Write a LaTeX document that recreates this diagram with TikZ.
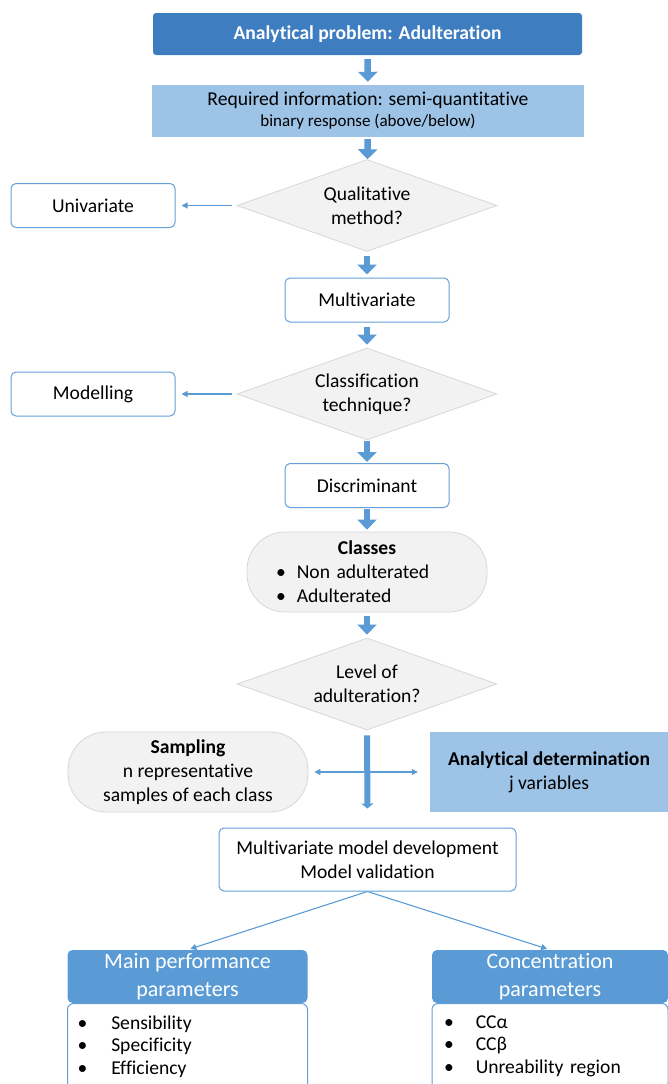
\documentclass[tikz,border=0pt]{standalone}
\usepackage{fontspec}
\setmainfont{Carlito}[Ligatures=NoCommon]
\usetikzlibrary{arrows.meta,shapes.geometric}
\definecolor{probblue}{RGB}{62,126,192}
\definecolor{infoblue}{RGB}{157,195,230}
\definecolor{hdrblue}{RGB}{91,155,213}
\definecolor{lineblue}{RGB}{100,160,215}
\definecolor{shade}{RGB}{242,242,242}
\definecolor{shadeline}{RGB}{215,215,215}
\begin{document}
\begin{tikzpicture}[x=1pt,y=-1pt]
  \tikzset{
    base/.style={font=\fontsize{19.6}{24}\selectfont, align=center, inner sep=0pt},
    probbox/.style={base, fill=probblue, text=white, font=\fontsize{19.6}{24}\selectfont\bfseries,
      rounded corners=3pt, minimum width=429pt, minimum height=42pt},
    infobox/.style={base, fill=infoblue, minimum width=432pt, minimum height=52pt},
    question/.style={base, diamond, aspect=2.83, fill=shade, draw=shadeline, line width=0.8pt,
      minimum width=260pt, minimum height=92pt},
    choice/.style={base, draw=lineblue, line width=1pt, fill=white, rounded corners=5pt,
      minimum width=164pt, minimum height=44pt},
    pill/.style={base, fill=shade, draw=shadeline, line width=0.8pt, rounded corners=38pt,
      minimum width=240pt, minimum height=80pt},
    hdr/.style={base, fill=hdrblue, text=white, font=\fontsize{22}{28}\selectfont,
      rounded corners=5pt, minimum width=240pt, minimum height=53pt},
    plist/.style={base, draw=lineblue, line width=1pt, fill=white, rounded corners=6pt,
      font=\fontsize{19.6}{22.5}\selectfont, align=left, inner ysep=12pt, anchor=north},
    blk/.style={draw=hdrblue, line width=6.5pt, -{Triangle[width=19pt,length=10pt]},
      shorten <=4pt, shorten >=3pt},
    thinarr/.style={draw=hdrblue, line width=1.1pt, -{Triangle[width=6pt,length=6pt]}}
  }
  \useasboundingbox (0,0) rectangle (668,1084);
  \clip (0,0) rectangle (668,1084);

  % main column
  \node[probbox] (problem) at (367.5,34) {Analytical problem: Adulteration};
  \node[infobox] (info) at (368,111) {Required information: semi-quantitative\\[-3pt]
    {\fontsize{17}{19}\selectfont binary response (above/below)}};
  \node[question] (qual) at (367,205.5) {Qualitative\\method?};
  \node[choice] (multi) at (367,300) {Multivariate};
  \node[question] (classif) at (367,394) {Classification\\technique?};
  \node[choice] (discr) at (367,485.5) {Discriminant};
  \node[pill, text width=200pt, align=left] (classes) at (367,572)
    {\makebox[\linewidth]{\textbf{Classes}}\\
     \hspace*{9pt}\textbullet\hspace{11pt}Non adulterated\\
     \hspace*{9pt}\textbullet\hspace{11pt}Adulterated};
  \node[question] (level) at (367,684) {Level of\\adulteration?};
  \node[choice, minimum width=297pt, minimum height=63pt] (model) at (367.5,859.5)
    {Multivariate model development\\Model validation};

  % side boxes
  \node[choice] (univ) at (93,205.5) {Univariate};
  \node[choice] (modl) at (93,394) {Modelling};
  \node[pill] (sampling) at (188,772)
    {\textbf{Sampling}\\n representative\\samples of each class};
  \node[base, fill=infoblue, minimum width=238pt, minimum height=80pt] (determ) at (549,772)
    {\textbf{Analytical determination}\\j variables};

  % parameters
  \node[hdr] (perf) at (187.5,976.5) {Main performance\\parameters};
  \node[hdr, minimum width=236pt] (conc) at (550,976.5) {Concentration\\parameters};
  \node[plist, text width=220pt, inner xsep=10pt] (perflist) at (187.5,1003)
    {\textbullet\hspace{24pt}Sensibility\\\textbullet\hspace{24pt}Specificity\\
     \textbullet\hspace{24pt}Efficiency};
  \node[plist, text width=212pt, inner xsep=12pt] (conclist) at (550,1003)
    {\textbullet\hspace{22pt}CCα\\\textbullet\hspace{22pt}CCβ\\
     \textbullet\hspace{22pt}Unreability region};

  % connectors
  \draw[blk] (problem) -- (info);
  \draw[blk, shorten <=2pt, shorten >=0pt] (info) -- (qual);
  \draw[blk] (qual) -- (multi);
  \draw[blk] (multi) -- (classif);
  \draw[blk, shorten <=1pt, shorten >=1pt] (classif) -- (discr);
  \draw[blk, shorten <=1pt, shorten >=2pt] (discr) -- (classes);
  \draw[blk] (classes) -- (level);
  \draw[draw=hdrblue, line width=6pt, -{Triangle[width=12pt,length=5pt]},
    shorten <=5pt, shorten >=19pt] (level) -- (model);
  \draw[thinarr] ([xshift=-5pt]qual.west) -- ([xshift=6pt]univ.east);
  \draw[thinarr] ([xshift=-5pt]classif.west) -- ([xshift=6pt]modl.east);
  \draw[thinarr, {Triangle[width=6pt,length=6pt]}-{Triangle[width=6pt,length=6pt]}]
    ([xshift=6pt]sampling.east) -- ([xshift=-12pt]determ.west);
  \draw[thinarr, shorten >=3pt] (model.south) -- (perf.north);
  \draw[thinarr, shorten >=3pt] (model.south) -- (conc.north);
\end{tikzpicture}
\end{document}
